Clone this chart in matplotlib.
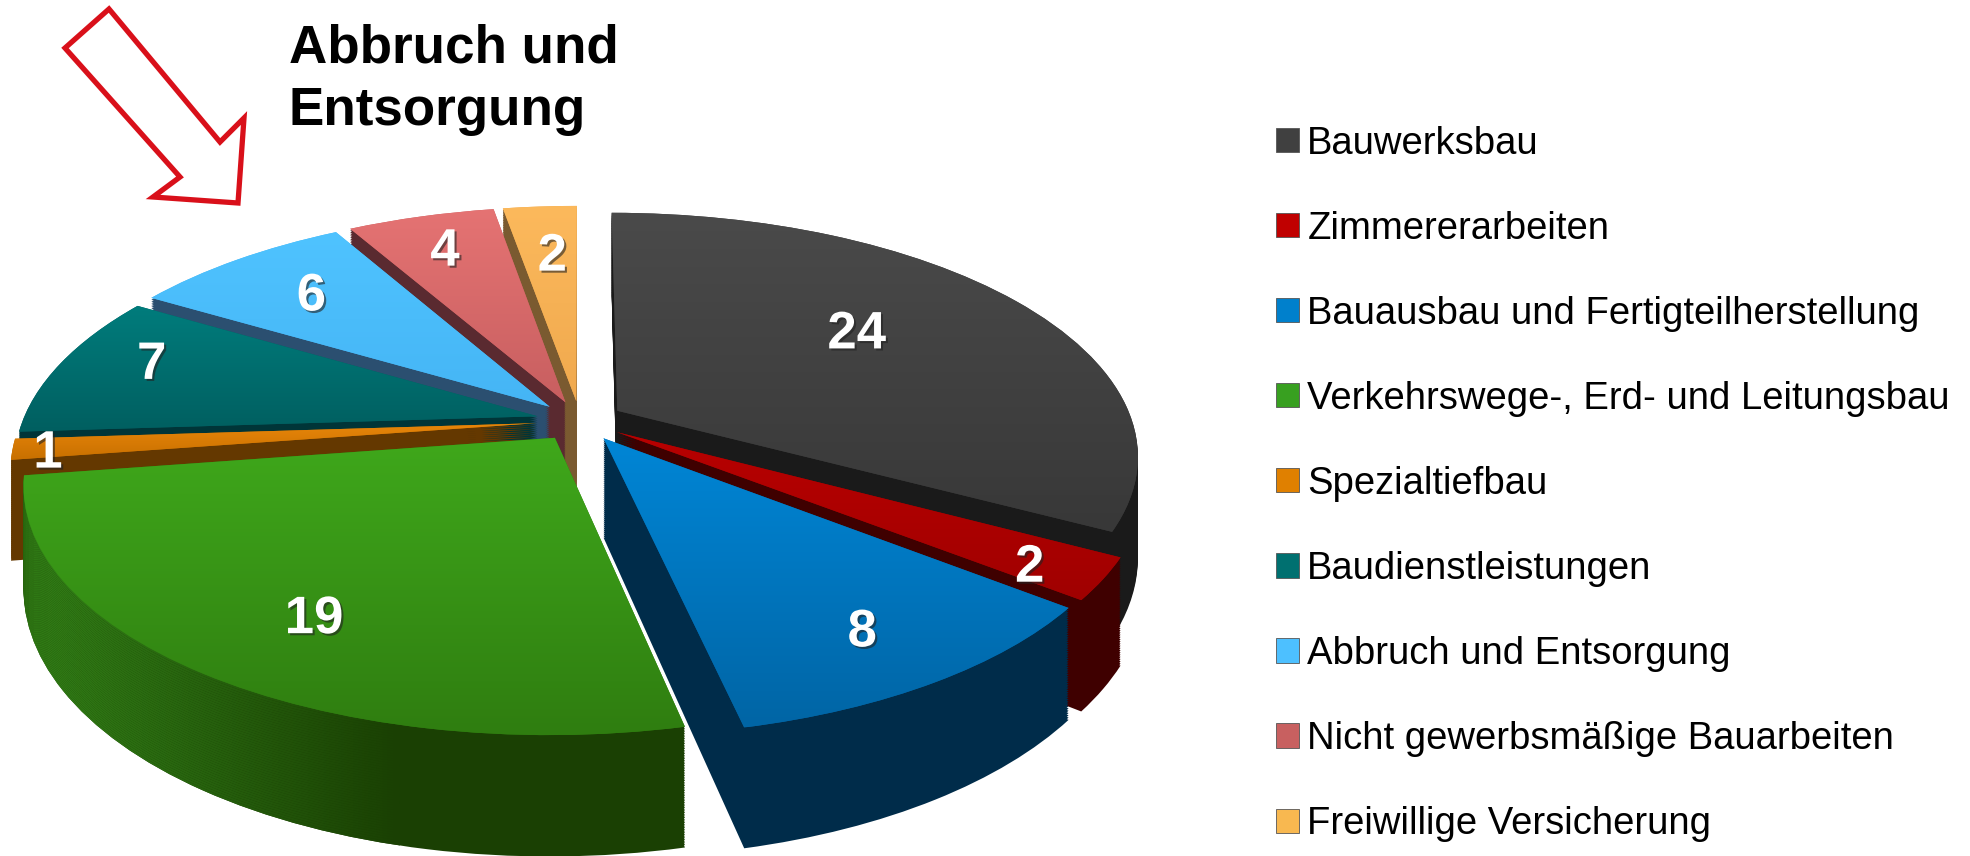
import matplotlib
matplotlib.use('Agg')
import matplotlib.pyplot as plt
import numpy as np
import matplotlib.patheffects as pe
from matplotlib.colors import LinearSegmentedColormap
from matplotlib.patches import Patch, Polygon
from matplotlib.transforms import Transform

plt.rcParams['font.family'] = ['Liberation Sans', 'DejaVu Sans']

categories = ['Bauwerksbau', 'Zimmererarbeiten', 'Bauausbau und Fertigteilherstellung',
              'Verkehrswege-, Erd- und Leitungsbau', 'Spezialtiefbau', 'Baudienstleistungen',
              'Abbruch und Entsorgung', 'Nicht gewerbsmäßige Bauarbeiten', 'Freiwillige Versicherung']
values = [24, 2, 8, 19, 1, 7, 6, 4, 2]
title_lines = ['Abbruch und', 'Entsorgung']

top_light = ['#4a4a4a', '#b80000', '#0086d6', '#3fa81b', '#e8860a', '#007c7c', '#4fc3ff', '#e57373', '#fcb95c']
top_dark = ['#383838', '#a00000', '#0065a5', '#2f7d10', '#c87000', '#005f60', '#45b5f5', '#c85f60', '#f0a94e']
side_cols = ['#1a1a1a', '#3f0000', '#002c4a', '#1a4003', '#643800', '#003538', '#2b4f70', '#5a2a30', '#7a5a30']
legend_cols = ['#404040', '#c00000', '#0080cc', '#38a020', '#e08000', '#007070', '#4dc0ff', '#c86060', '#f8b850']

# back to front
draw_rank = [5, 6, 7, 8, 4, 3, 2, 1, 0]
explode = [0.085] * 9
label_r = [0.623, 0.872, 0.807, 0.759, 0.933, 0.826, 0.749, 0.81, 0.732]
label_turn = [4.6, -1.3, 0, 2.3, 0.5, -3.4, -0.5, 0, -0.6]

CX, CY = 580, 421
RX, RY = 515, 237
PERSP = 0.18
DEPTH = 98
GREEN = 3


class PieProjection(Transform):
    input_dims = 2
    output_dims = 2
    is_separable = False
    has_inverse = False

    def __init__(self, z=0):
        super().__init__()
        self.z = z

    def transform_non_affine(self, values):
        xy = np.asarray(values, dtype=float)
        s = 1 / (1 + PERSP * xy[:, 1])
        return np.column_stack([CX + RX * xy[:, 0] * s, CY - (RY * xy[:, 1] - self.z) * s])


fig = plt.figure(figsize=(19.7, 8.56), dpi=100)
ax = fig.add_axes([0, 0, 1, 1])

green_side = LinearSegmentedColormap.from_list('gs', ['#338218', side_cols[GREEN]])

# side walls are the same pie repeated downwards
for z in range(DEPTH, 0, -2):
    wedges, _ = ax.pie(values, colors=side_cols, explode=explode, startangle=90,
                       counterclock=False, wedgeprops={'linewidth': 0})
    for i, w in enumerate(wedges):
        w.set_transform(PieProjection(z) + ax.transData)
        w.set_zorder(draw_rank[i] * 1000 + DEPTH - z)
    # the round wall of the green slice fades out towards the front
    im = ax.imshow(np.linspace(0, 1, 128).reshape(1, -1), cmap=green_side, aspect='auto',
                   extent=(20, 400, 856, 0), zorder=draw_rank[GREEN] * 1000 + DEPTH - z)
    im.set_clip_path(wedges[GREEN])

wedges, _ = ax.pie(values, colors=top_dark, explode=explode, startangle=90,
                   counterclock=False, wedgeprops={'linewidth': 0})
top_proj = PieProjection(0)
for i, w in enumerate(wedges):
    w.set_transform(top_proj + ax.transData)
    w.set_zorder(draw_rank[i] * 1000 + DEPTH + 1)
    ys = top_proj.transform(w.get_path().vertices)[:, 1]
    cmap = LinearSegmentedColormap.from_list('g', [top_light[i], top_dark[i]])
    im = ax.imshow(np.linspace(0, 1, 128).reshape(-1, 1), cmap=cmap, aspect='auto',
                   extent=(0, 1970, ys.max(), ys.min()), zorder=draw_rank[i] * 1000 + DEPTH + 2)
    im.set_clip_path(w)

# value labels, placed from the slice angles
bounds = np.cumsum([0] + values) / sum(values) * 360
for i, v in enumerate(values):
    ang = np.deg2rad(90 - (bounds[i] + bounds[i + 1]) / 2 + label_turn[i])
    r = label_r[i] + explode[i]
    x, y = top_proj.transform(np.array([[r * np.cos(ang), r * np.sin(ang)]]))[0]
    ax.text(x, y + 4, str(v), color='white', fontsize=38, fontweight='bold', ha='center', va='center',
            zorder=20000, path_effects=[pe.withSimplePatchShadow(offset=(1.5, -1.5), shadow_rgbFace='#222222', alpha=0.6)])

arrow_pts = [(109, 9), (65, 48), (180, 177), (153, 197), (238, 203), (244, 118), (220, 142)]
ax.add_patch(Polygon(arrow_pts, closed=True, facecolor='white', edgecolor='#d9101a', linewidth=3.8, zorder=20000))

ax.text(289, 48, title_lines[0], fontsize=38.2, fontweight='bold', color='black', va='center', zorder=20000)
ax.text(289, 111, title_lines[1], fontsize=38.2, fontweight='bold', color='black', va='center', zorder=20000)

ax.set_aspect('auto')
ax.set_xlim(0, 1970)
ax.set_ylim(856, 0)
ax.axis('off')

handles = [Patch(facecolor=c, edgecolor='#555555', linewidth=0.6) for c in legend_cols]
fig.legend(handles, categories, loc='upper left', bbox_to_anchor=(1276 / 1970, 1 - 125.5 / 856), frameon=False,
           fontsize=27.5, labelspacing=1.285, handlelength=0.6, handleheight=0.6, handletextpad=0.22,
           borderpad=0, borderaxespad=0)

fig.savefig('out.png', dpi=100)
